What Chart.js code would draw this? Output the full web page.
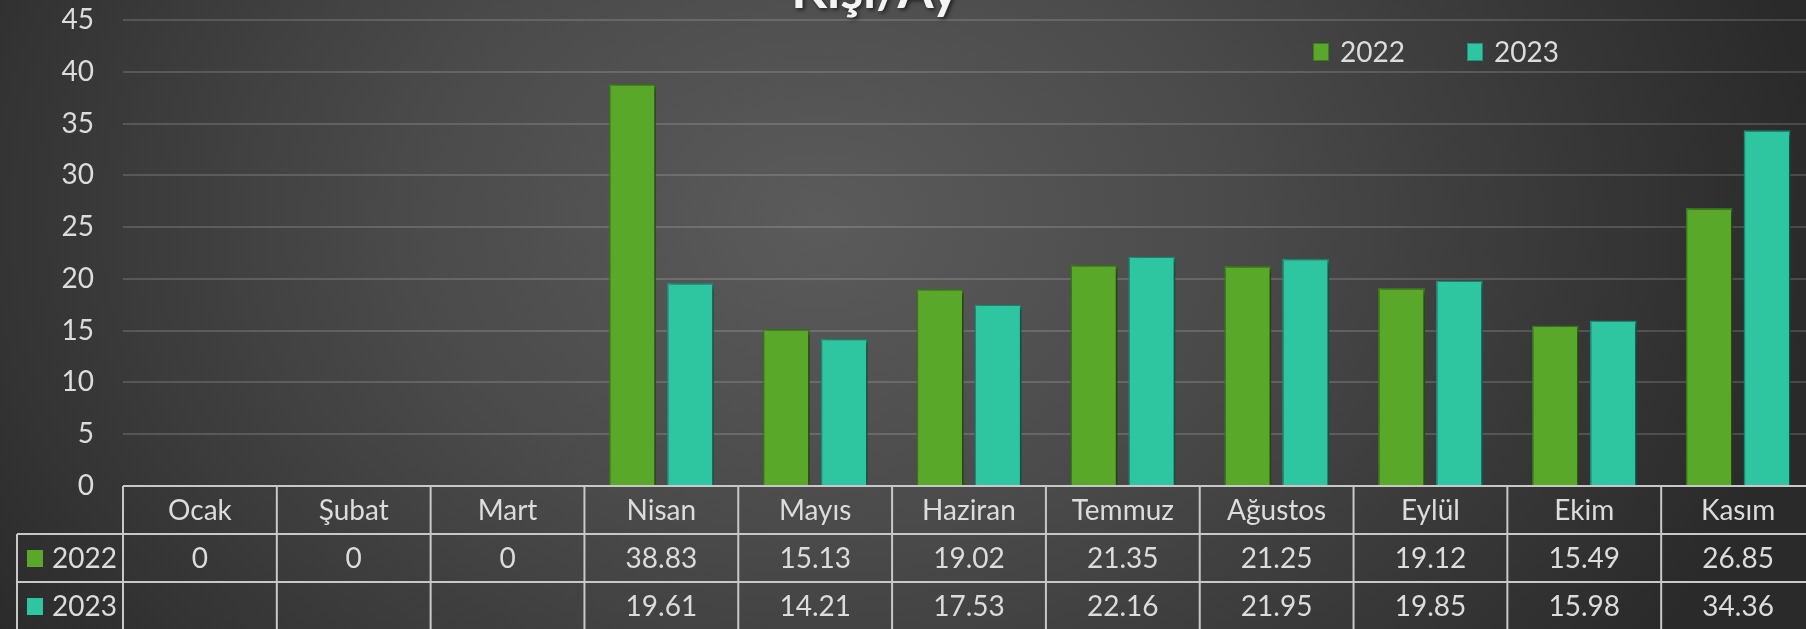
<!DOCTYPE html>
<html>
<head>
<meta charset="utf-8">
<script src="https://cdn.jsdelivr.net/npm/chart.js@4.4.1/dist/chart.umd.min.js"></script>
<style>
    html, body { margin: 0; padding: 0; overflow: hidden; width: 1806px; height: 629px; }
    body { background: radial-gradient(ellipse 1000px 760px at 820px 220px, #5b5b5b 0%, #4b4b4b 40%, #2a2a2a 100%); }
    #wrap { position: relative; width: 1815px; height: 629px; }
</style>
</head>
<body>
<div id="wrap"><canvas id="chart"></canvas></div>
<script>
const title = "Kişi/Ay";
const months = ["Ocak", "Şubat", "Mart", "Nisan", "Mayıs", "Haziran", "Temmuz", "Ağustos", "Eylül", "Ekim", "Kasım"];
const seriesNames = ["2022", "2023"];
const values2022 = [0, 0, 0, 38.83, 15.13, 19.02, 21.35, 21.25, 19.12, 15.49, 26.85];
const values2023 = [null, null, null, 19.61, 14.21, 17.53, 22.16, 21.95, 19.85, 15.98, 34.36];
const yMin = 0, yMax = 45, yStep = 5;

const FONT = "Lato, 'Open Sans', sans-serif";
const TEXT = "#dcdcdc";
const LINE = "#c8c8c8";
const colors = ["#5aa829", "#2ec6a1"];
const borders = ["#3f7d1c", "#1f937a"];
const ROW_H = 48;
const FS = 28;

// drop shadow under the bars
const barShadow = {
    id: "barShadow",
    beforeDatasetsDraw(chart) {
        const c = chart.ctx;
        c.save();
        c.shadowColor = "rgba(0,0,0,0.55)";
        c.shadowBlur = 6;
        c.shadowOffsetX = 3;
        c.shadowOffsetY = 2;
    },
    afterDatasetsDraw(chart) {
        chart.ctx.restore();
    }
};

// title (cut at the top), legend and data table
const extras = {
    id: "extras",
    afterDraw(chart) {
        const c = chart.ctx;
        const x = chart.scales.x;
        const area = chart.chartArea;
        const step = x.getPixelForValue(1) - x.getPixelForValue(0);
        const top = area.bottom;
        const tableLeft = 17;
        const rows = [values2022, values2023];

        c.save();
        // title
        c.font = "bold 52px " + FONT;
        c.fillStyle = "#f4f4f4";
        c.textAlign = "center";
        c.textBaseline = "alphabetic";
        c.shadowColor = "rgba(0,0,0,0.6)";
        c.shadowBlur = 4;
        c.shadowOffsetX = 2;
        c.shadowOffsetY = 2;
        c.fillText(title, 875, 8);
        c.shadowColor = "transparent";

        // legend
        c.font = FS + "px " + FONT;
        c.textAlign = "left";
        c.textBaseline = "middle";
        const legendX = [1313, 1467];
        seriesNames.forEach((name, i) => {
            c.fillStyle = colors[i];
            c.fillRect(legendX[i], 43, 16, 18);
            c.strokeStyle = borders[i];
            c.lineWidth = 1;
            c.strokeRect(legendX[i] + 0.5, 43.5, 15, 17);
            c.fillStyle = TEXT;
            c.fillText(name, legendX[i] + 27, 53);
        });

        // table lines
        c.strokeStyle = LINE;
        c.lineWidth = 2;
        c.beginPath();
        c.moveTo(area.left, top);
        c.lineTo(chart.width, top);
        for (let r = 1; r <= 2; r++) {
            c.moveTo(tableLeft, top + r * ROW_H);
            c.lineTo(chart.width, top + r * ROW_H);
        }
        c.moveTo(tableLeft, top + ROW_H);
        c.lineTo(tableLeft, chart.height);
        for (let i = 0; i <= months.length; i++) {
            const bx = x.getPixelForValue(i) - step / 2;
            c.moveTo(bx, top);
            c.lineTo(bx, chart.height);
        }
        c.stroke();

        // header and values
        c.font = FS + "px " + FONT;
        c.textAlign = "center";
        c.fillStyle = TEXT;
        months.forEach((m, i) => {
            const cx = x.getPixelForValue(i);
            c.fillText(m, cx, top + ROW_H / 2 + 1);
            rows.forEach((vals, r) => {
                if (vals[i] !== null) c.fillText(String(vals[i]), cx, top + ROW_H * (r + 1.5) + 1);
            });
        });

        // row labels
        c.textAlign = "left";
        seriesNames.forEach((name, r) => {
            const cy = top + ROW_H * (r + 1.5);
            c.fillStyle = colors[r];
            c.fillRect(27, cy - 8, 16, 17);
            c.fillStyle = TEXT;
            c.fillText(name, 52, cy + 1);
        });
        c.restore();
    }
};

const ctx = document.getElementById("chart").getContext("2d");
const chart = new Chart(ctx, {
    type: "bar",
    data: {
        labels: months,
        datasets: [
            {
                label: seriesNames[0],
                data: values2022,
                backgroundColor: colors[0],
                borderColor: borders[0],
                borderWidth: 1.5
            },
            {
                label: seriesNames[1],
                data: values2023,
                backgroundColor: colors[1],
                borderColor: borders[1],
                borderWidth: 1.5
            }
        ]
    },
    options: {
        responsive: true,
        maintainAspectRatio: false,
        animation: false,
        categoryPercentage: 0.753,
        barPercentage: 0.81,
        layout: { padding: { top: 20, right: 0, bottom: 143, left: 0 } },
        plugins: {
            legend: { display: false },
            title: { display: false },
            tooltip: { enabled: false }
        },
        scales: {
            x: { display: false },
            y: {
                min: yMin,
                max: yMax,
                afterFit: (s) => {
                    s.width = 123;
                    s.paddingTop = 0;
                    s.paddingBottom = 0;
                },
                border: { display: false },
                grid: { color: "rgba(255,255,255,0.15)", lineWidth: 2, drawTicks: false },
                ticks: {
                    stepSize: yStep,
                    padding: 29,
                    color: TEXT,
                    font: { family: FONT, size: FS }
                }
            }
        }
    },
    plugins: [barShadow, extras]
});
</script>
</body>
</html>
